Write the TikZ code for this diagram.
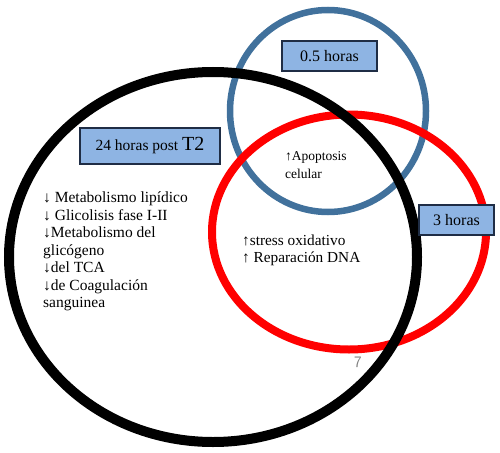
\documentclass[tikz,border=0pt]{standalone}
\usepackage{fontspec}
\setmainfont{Liberation Serif}
\usetikzlibrary{shapes.geometric}
\definecolor{ringblue}{HTML}{41719C}
\definecolor{boxfill}{HTML}{8EB4E3}
\definecolor{boxline}{HTML}{1F2D45}
\begin{document}
\begin{tikzpicture}[x=1pt,y=-1pt]
        \tikzset{
            ring/.style={ellipse, inner sep=0pt},
            lbl/.style={rectangle, fill=boxfill, draw=boxline, line width=1.5pt, inner sep=0pt},
            txt/.style={anchor=north west, align=left, inner sep=0pt}
            }
            \useasboundingbox (0,0) rectangle (500,452);

            \node[ring, draw=ringblue, line width=6.5pt, minimum width=196pt, minimum height=202pt] (r05) at (328,111) {};
            \node[ring, draw=red, line width=8pt, minimum width=274pt, minimum height=235pt] (r3) at (349,232) {};
            \node[ring, draw=black, line width=10pt, minimum width=408pt, minimum height=370pt] (r24) at (213,257) {};

            \node[lbl, minimum width=95pt, minimum height=30pt, font=\fontsize{16}{18}\selectfont] (b05) at (329.5,56) {0.5 horas};
            \node[lbl, minimum width=75pt, minimum height=30pt, font=\fontsize{16}{18}\selectfont] (b3) at (456.5,220) {3 horas};
            \node[lbl, minimum width=140pt, minimum height=36pt, font=\fontsize{15.5}{18}\selectfont] (b24) at (150,146) {24 horas post {\fontsize{20}{22}\selectfont T2}};

            \node[txt, font=\fontsize{15.5}{17.5}\selectfont] (t24) at (43,192) {↓ Metabolismo lipídico\\↓ Glicolisis fase I-II\\↓Metabolismo del\\glicógeno\\↓del TCA\\↓de Coagulación\\sanguinea};
            \node[txt, font=\fontsize{13.5}{18}\selectfont] (t05) at (285,151) {↑Apoptosis\\celular};
            \node[txt, font=\fontsize{15.3}{16.5}\selectfont] (t3) at (242,235) {↑stress oxidativo\\↑ Reparación DNA};
            \node[font=\sffamily\fontsize{16}{18}\selectfont, text=gray] (pg) at (358,362) {7};
        \end{tikzpicture}
\end{document}
